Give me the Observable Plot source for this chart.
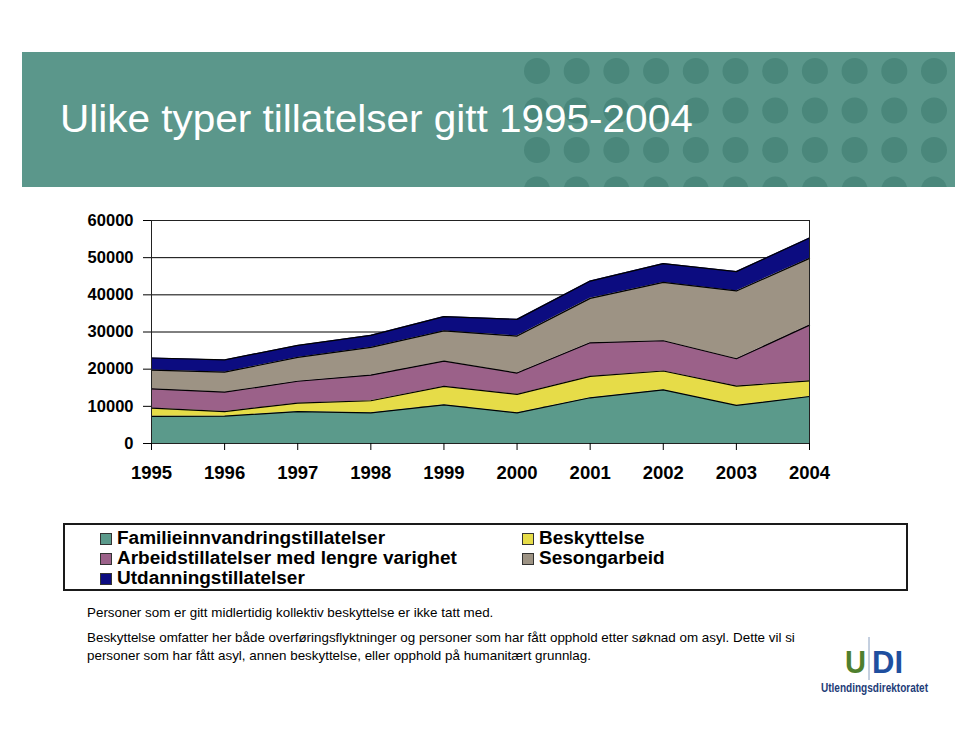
<!DOCTYPE html>
<html><head><meta charset="utf-8">
<script src="https://cdn.jsdelivr.net/npm/d3@7"></script>
<script src="https://cdn.jsdelivr.net/npm/@observablehq/plot@0.6"></script>
<style>
html,body{margin:0;padding:0}
body{width:960px;height:732px;position:relative;background:#fff;font-family:"Liberation Sans",Arial,Helvetica,sans-serif;overflow:hidden}
#banner{position:absolute;left:22px;top:52px;width:933px;height:135px;background:#5b978b;overflow:hidden}
#banner svg{position:absolute;left:0;top:0}
#title{position:absolute;left:38px;top:45px;color:#fff;font-size:38px;line-height:44px;white-space:nowrap;font-family:"Liberation Sans",Arial,sans-serif;transform:scaleX(1.066);transform-origin:0 50%}
#chart{position:absolute;left:0;top:200px}
#legendbox{position:absolute;left:63px;top:523px;width:845px;height:68px;box-sizing:border-box;border:2px solid #1a1a1a}
.li{position:absolute;font-weight:bold;font-size:18px;line-height:20px;white-space:nowrap;color:#000;transform:scaleX(1.055);transform-origin:0 50%}
.sw{position:absolute;width:10px;height:10px;border:1px solid #333}
.note{position:absolute;left:87px;font-size:13.4px;line-height:18px;white-space:nowrap;color:#000}
#logo{position:absolute;left:810px;top:630px}
</style></head>
<body>
<div id="banner"><div id="title"></div></div>
<div id="chart"></div>
<div id="legendbox"></div>
<div id="legend"></div>
<div id="notes"></div>
<div id="logo"></div>
<script>
// ---- data ----
const years = [1995, 1996, 1997, 1998, 1999, 2000, 2001, 2002, 2003, 2004];
const seriesNames = [
  "Familieinnvandringstillatelser",
  "Beskyttelse",
  "Arbeidstillatelser med lengre varighet",
  "Sesongarbeid",
  "Utdanningstillatelser"
];
const seriesColors = ["#5b9a8b", "#e6dc48", "#9b6189", "#9d9384", "#0c0c80"];
const familie     = [7300, 7350, 8600, 8250, 10400, 8250, 12300, 14450, 10250, 12650];
const beskyttelse = [2200, 1250, 2250, 3250, 4950, 4950, 5750, 5050, 5200, 4200];
const arbeid      = [5200, 5200, 5900, 6900, 6800, 5750, 9050, 8150, 7350, 15000];
const sesong      = [5050, 5400, 6400, 7450, 8150, 9950, 11950, 15700, 18250, 17950];
const utdanning   = [3250, 3300, 3250, 3250, 3850, 4500, 4650, 5050, 5200, 5500];
const yTicks = [0, 10000, 20000, 30000, 40000, 50000, 60000];
const gridTicks = [10000, 20000, 30000, 40000, 50000];
const titleText = "Ulike typer tillatelser gitt 1995-2004";
const notes = [
  "Personer som er gitt midlertidig kollektiv beskyttelse er ikke tatt med.",
  "Beskyttelse omfatter her både overføringsflyktninger og personer som har fått opphold etter søknad om asyl. Dette vil si",
  "personer som har fått asyl, annen beskyttelse, eller opphold på humanitært grunnlag."
];

const valueArrays = [familie, beskyttelse, arbeid, sesong, utdanning];
const data = [];
seriesNames.forEach((s, i) => years.forEach((yr, j) => data.push({year: yr, series: s, value: valueArrays[i][j]})));

// ---- banner ----
document.getElementById("title").textContent = titleText;
(function(){
  const ns = "http://www.w3.org/2000/svg";
  const svg = document.createElementNS(ns, "svg");
  svg.setAttribute("width", 933); svg.setAttribute("height", 135);
  for (let r = 0; r < 4; r++) for (let c = 0; c < 11; c++) {
    const ci = document.createElementNS(ns, "circle");
    ci.setAttribute("cx", 515 + c * 39.7);
    ci.setAttribute("cy", 19 + r * 39.5);
    ci.setAttribute("r", 13);
    ci.setAttribute("fill", "#4a877b");
    svg.appendChild(ci);
  }
  const b = document.getElementById("banner");
  b.insertBefore(svg, b.firstChild);
})();

// ---- chart ----
const chart = Plot.plot({
  width: 960, height: 300,
  marginLeft: 151, marginRight: 151, marginTop: 20, marginBottom: 57,
  x: {domain: [1995, 2004]},
  y: {domain: [0, 60000]},
  color: {domain: seriesNames, range: seriesColors},
  style: {fontFamily: "'Liberation Sans', Arial, sans-serif", background: "transparent", color: "#000", overflow: "visible"},
  marks: [
    Plot.ruleY(gridTicks, {stroke: "#000", strokeWidth: 1}),
    Plot.areaY(data, {x: "year", y: "value", z: "series", fill: "series", order: seriesNames, fillOpacity: 1}),
    Plot.lineY(data, Plot.stackY2({x: "year", y: "value", z: "series", order: seriesNames, stroke: "#000", strokeWidth: 1.2})),
    Plot.frame({stroke: "#222", strokeWidth: 1}),
    Plot.axisX({ticks: years, tickFormat: d => String(d), tickSize: 7, tickPadding: 15, fontSize: 18.5, fontWeight: "bold", label: null, stroke: "#000"}),
    Plot.axisY({ticks: yTicks, tickFormat: d => String(d), tickSize: 8, tickPadding: 10, fontSize: 16.5, fontWeight: "bold", label: null, stroke: "#000"})
  ]
});
document.getElementById("chart").appendChild(chart);

// ---- legend ----
(function(){
  const L = document.getElementById("legend");
  seriesNames.forEach((s, i) => {
    const row = Math.floor(i / 2), col = i % 2;
    const x0 = col === 0 ? 100 : 522;
    const yc = 538 + row * 20;
    const sw = document.createElement("div");
    sw.className = "sw";
    sw.style.left = x0 + "px"; sw.style.top = (yc - 5) + "px";
    sw.style.background = seriesColors[i];
    L.appendChild(sw);
    const t = document.createElement("div");
    t.className = "li";
    t.style.left = (x0 + 17) + "px"; t.style.top = (yc - 10) + "px";
    t.textContent = s;
    L.appendChild(t);
  });
})();

// ---- notes ----
(function(){
  const N = document.getElementById("notes");
  const tops = [604, 629, 647];
  notes.forEach((n, i) => {
    const d = document.createElement("div");
    d.className = "note"; d.style.top = tops[i] + "px"; d.textContent = n;
    N.appendChild(d);
  });
})();

// ---- logo ----
document.getElementById("logo").innerHTML =
  '<svg width="140" height="70" xmlns="http://www.w3.org/2000/svg">' +
  '<text x="35" y="43" font-family="Liberation Sans, Arial" font-weight="bold" font-size="31" fill="#4f7f2e" textLength="21" lengthAdjust="spacingAndGlyphs">U</text>' +
  '<line x1="59" y1="7" x2="59" y2="50" stroke="#8aa0c0" stroke-width="1"/>' +
  '<text x="62" y="43" font-family="Liberation Sans, Arial" font-weight="bold" font-size="31" fill="#1f4f9f" textLength="31" lengthAdjust="spacingAndGlyphs">DI</text>' +
  '<text x="11" y="62" font-family="Liberation Sans Narrow, Liberation Sans, Arial" font-weight="bold" font-size="12" fill="#1d3c78" textLength="107" lengthAdjust="spacingAndGlyphs">Utlendingsdirektoratet</text>' +
  '</svg>';
</script>
</body></html>
